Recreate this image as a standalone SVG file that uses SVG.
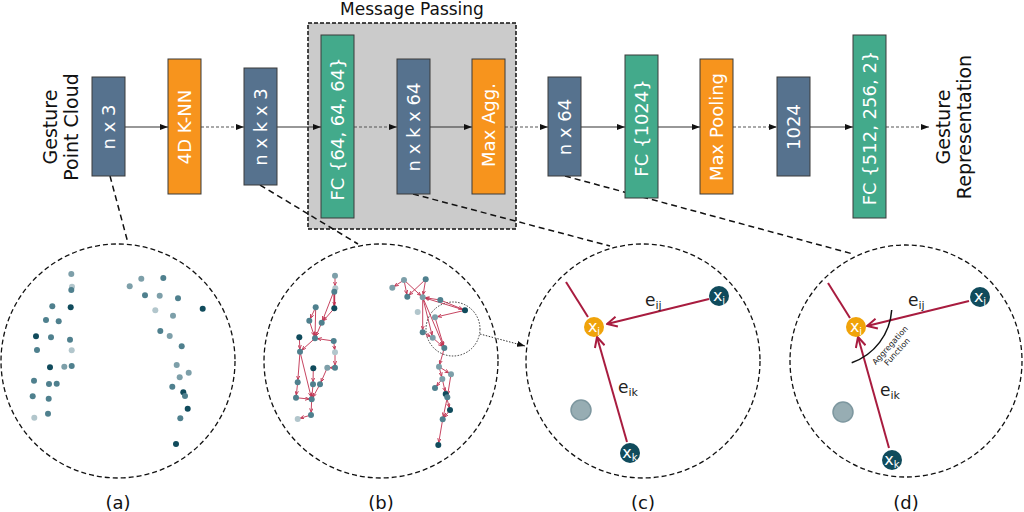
<svg xmlns="http://www.w3.org/2000/svg" width="1024" height="512" viewBox="0 0 1024 512">
<defs>
<style>
.box{stroke:#3a3a3a;stroke-width:1}
.blue{fill:#56728e}.orange{fill:#f7941d}.green{fill:#43aa8b}
.bt{font-family:"DejaVu Sans",sans-serif;font-size:18px;fill:#fff;text-anchor:middle}
.lbl{font-family:"DejaVu Sans",sans-serif;font-size:19px;fill:#111;text-anchor:middle}
.cap{font-family:"DejaVu Sans",sans-serif;font-size:18px;fill:#111;text-anchor:middle}
.el{font-family:"DejaVu Sans",sans-serif;font-size:17px;fill:#222}
.nl{font-family:"DejaVu Sans",sans-serif;font-size:16px;fill:#fff;text-anchor:middle}
.solid{stroke:#333;stroke-width:1.2;fill:none}
.dash{stroke:#555;stroke-width:1.2;stroke-dasharray:3 2;fill:none}
.call{stroke:#111;stroke-width:1.5;stroke-dasharray:6 4;fill:none}
.circ{stroke:#111;stroke-width:1.3;stroke-dasharray:5 3;fill:none}
.d{fill:#104b5c}.m{fill:#4f808e}.lm{fill:#7d9fa9}.l{fill:#b2c6cc}
.red{stroke:#a81c3f;stroke-width:2;fill:none}
.rs{stroke:#c0304f;stroke-width:0.9;fill:none}
</style>
<marker id="ah" viewBox="0 0 8 6" refX="8" refY="3" markerWidth="8" markerHeight="6" markerUnits="userSpaceOnUse" orient="auto"><path d="M0,0 L8,3 L0,6 z" fill="#111"/></marker>
<marker id="ch" viewBox="0 0 12 12" refX="11" refY="6" markerWidth="12" markerHeight="12" markerUnits="userSpaceOnUse" orient="auto"><path d="M1,1 L11,6 L1,11" fill="none" stroke="#a81c3f" stroke-width="2"/></marker>
<marker id="sc" viewBox="0 0 6 6" refX="10" refY="3" markerWidth="4" markerHeight="4" markerUnits="userSpaceOnUse" orient="auto"><path d="M0,0.5 L6,3 L0,5.5" fill="none" stroke="#c0304f" stroke-width="1.3"/></marker>
</defs>
<rect width="1024" height="512" fill="#fff"/>

<g id="message-passing">
<rect x="308" y="23" width="208" height="206" fill="#cbcbcb" stroke="#111" stroke-width="1.5" stroke-dasharray="4 2"/>
<text class="cap" x="412" y="15" style="font-size:17px">Message Passing</text>
</g>

<g id="labels">
<text class="lbl" transform="translate(0,127) rotate(-90)"><tspan x="0" y="57">Gesture</tspan><tspan x="0" y="77.5">Point Cloud</tspan></text>
<text class="lbl" transform="translate(0,127) rotate(-90)"><tspan x="0" y="950">Gesture</tspan><tspan x="0" y="971">Representation</tspan></text>
</g>

<g id="connectors">
<line class="solid" x1="125" y1="127" x2="168" y2="127" marker-end="url(#ah)"/>
<line class="dash" x1="201" y1="127" x2="244" y2="127" marker-end="url(#ah)"/>
<line class="solid" x1="277" y1="127" x2="321" y2="127" marker-end="url(#ah)"/>
<line class="dash" x1="354" y1="127" x2="397" y2="127" marker-end="url(#ah)"/>
<line class="solid" x1="430" y1="127" x2="472" y2="127" marker-end="url(#ah)"/>
<line class="dash" x1="505" y1="127" x2="548" y2="127" marker-end="url(#ah)"/>
<line class="solid" x1="581" y1="127" x2="625" y2="127" marker-end="url(#ah)"/>
<line class="solid" x1="658" y1="127" x2="700" y2="127" marker-end="url(#ah)"/>
<line class="dash" x1="733" y1="127" x2="777" y2="127" marker-end="url(#ah)"/>
<line class="solid" x1="810" y1="127" x2="853" y2="127" marker-end="url(#ah)"/>
<line class="dash" x1="886" y1="127" x2="929" y2="127" marker-end="url(#ah)"/>
<line class="call" x1="110" y1="176" x2="128" y2="243"/>
<line class="call" x1="260" y1="185" x2="358" y2="244"/>
<line class="call" x1="413" y1="194" x2="610" y2="246"/>
<line class="call" x1="565" y1="176" x2="853" y2="254"/>
<line x1="480" y1="334" x2="525" y2="346" stroke="#333" stroke-width="1" stroke-dasharray="1.5 1.5" marker-end="url(#ah)"/>
</g>

<g id="n-x-3"><rect class="box blue" x="92" y="77" width="33" height="99"/><text class="bt" transform="translate(108.5,127) rotate(-90)" dy="0.35em">n x 3</text></g>
<g id="knn"><rect class="box orange" x="168" y="59" width="33" height="135"/><text class="bt" transform="translate(184.5,127) rotate(-90)" dy="0.35em">4D K-NN</text></g>
<g id="n-x-k-x-3"><rect class="box blue" x="244" y="68" width="33" height="117"/><text class="bt" transform="translate(260.5,127) rotate(-90)" dy="0.35em">n x k x 3</text></g>
<g id="fc-64"><rect class="box green" x="321" y="35" width="33" height="183"/><text class="bt" transform="translate(337.5,129) rotate(-90)" dy="0.35em">FC {64, 64, 64}</text></g>
<g id="n-x-k-x-64"><rect class="box blue" x="397" y="59" width="33" height="135"/><text class="bt" transform="translate(413.5,127) rotate(-90)" dy="0.35em">n x k x 64</text></g>
<g id="max-agg"><rect class="box orange" x="472" y="59" width="33" height="135"/><text class="bt" transform="translate(488.5,125) rotate(-90)" dy="0.35em">Max Agg.</text></g>
<g id="n-x-64"><rect class="box blue" x="548" y="77" width="33" height="99"/><text class="bt" transform="translate(564.5,127) rotate(-90)" dy="0.35em">n x 64</text></g>
<g id="fc-1024"><rect class="box green" x="625" y="55" width="33" height="143"/><text class="bt" transform="translate(641.5,128) rotate(-90)" dy="0.35em">FC {1024}</text></g>
<g id="max-pooling"><rect class="box orange" x="700" y="59" width="33" height="135"/><text class="bt" transform="translate(716.5,127) rotate(-90)" dy="0.35em">Max Pooling</text></g>
<g id="n-1024"><rect class="box blue" x="777" y="77" width="33" height="99"/><text class="bt" transform="translate(793.5,127) rotate(-90)" dy="0.35em">1024</text></g>
<g id="fc-512"><rect class="box green" x="853" y="35" width="33" height="183"/><text class="bt" transform="translate(869.5,128) rotate(-90)" dy="0.35em">FC {512, 256, 2}</text></g>

<g id="panel-a">
<circle class="circ" cx="118" cy="361" r="117"/>
<g>
<circle class="lm" cx="71.3" cy="274" r="3"/><circle class="l" cx="72" cy="286.7" r="3"/><circle class="m" cx="71.3" cy="290" r="3"/><circle class="m" cx="52.3" cy="306.3" r="3"/><circle class="d" cx="70.7" cy="307.3" r="3"/><circle class="m" cx="46" cy="320" r="3"/><circle class="m" cx="58.7" cy="321.3" r="3"/><circle class="d" cx="36" cy="336.3" r="3"/><circle class="m" cx="51" cy="337.3" r="3"/><circle class="m" cx="70" cy="339.7" r="3"/><circle class="m" cx="37" cy="350" r="3"/><circle class="l" cx="71.7" cy="350.3" r="3"/><circle class="d" cx="50" cy="367.3" r="3"/><circle class="lm" cx="64.3" cy="366.7" r="3"/><circle class="m" cx="71.7" cy="366" r="3"/><circle class="m" cx="34" cy="380.7" r="3"/><circle class="m" cx="49" cy="384" r="3"/><circle class="m" cx="56.7" cy="383.7" r="3"/><circle class="m" cx="32.7" cy="396.3" r="3"/><circle class="m" cx="48.7" cy="398.7" r="3"/><circle class="m" cx="48" cy="413.7" r="3"/><circle class="l" cx="34.3" cy="417.7" r="3"/>
<circle class="lm" cx="129.7" cy="286.3" r="3"/><circle class="lm" cx="141.3" cy="278.7" r="3"/><circle class="m" cx="163.3" cy="278" r="3"/><circle class="m" cx="145" cy="295.3" r="3"/><circle class="lm" cx="159.7" cy="295.7" r="3"/><circle class="m" cx="178" cy="298.3" r="3"/><circle class="d" cx="202.7" cy="308.7" r="3"/><circle class="l" cx="155.3" cy="310.3" r="3"/><circle class="lm" cx="173" cy="315.7" r="3"/><circle class="m" cx="160.3" cy="331" r="3"/><circle class="lm" cx="169.7" cy="336" r="3"/><circle class="m" cx="181.7" cy="346.3" r="3"/><circle class="lm" cx="176.7" cy="365" r="3"/><circle class="lm" cx="188.7" cy="372.7" r="3"/><circle class="lm" cx="179.7" cy="377.3" r="3"/><circle class="m" cx="172.3" cy="386.7" r="3"/><circle class="d" cx="183.3" cy="392.3" r="3"/><circle class="m" cx="185" cy="396" r="3"/><circle class="d" cx="187.7" cy="408.7" r="3"/><circle class="m" cx="180.3" cy="418.3" r="3"/><circle class="d" cx="176" cy="444" r="3"/>
</g>
<text class="cap" x="118" y="509">(a)</text>
</g>

<g id="panel-b">
<circle class="circ" cx="381" cy="361" r="117"/>
<circle cx="453" cy="329" r="27" fill="none" stroke="#333" stroke-width="1" stroke-dasharray="1.5 1.5"/>
<g marker-end="url(#sc)">
<line class="rs" x1="335" y1="275.7" x2="335" y2="288.3"/>
<line class="rs" x1="334.3" y1="291.7" x2="334.3" y2="308.3" style="stroke-width:1.8"/>
<line class="rs" x1="335" y1="288.3" x2="321.7" y2="322.7"/>
<line class="rs" x1="334.3" y1="308.3" x2="321.7" y2="322.7"/>
<line class="rs" x1="321.7" y1="322.7" x2="315" y2="338.3"/>
<line class="rs" x1="315.7" y1="307.3" x2="309.3" y2="320.7"/>
<line class="rs" x1="315.7" y1="307.3" x2="315" y2="338.3"/>
<line class="rs" x1="309.3" y1="320.7" x2="315" y2="338.3"/>
<line class="rs" x1="333.7" y1="341" x2="315" y2="338.3"/>
<line class="rs" x1="333.7" y1="341" x2="335" y2="352.3"/>
<line class="rs" x1="335" y1="352.3" x2="335" y2="367.7"/>
<line class="rs" x1="335" y1="367.7" x2="327.3" y2="367.7"/>
<line class="rs" x1="299.3" y1="337.3" x2="300" y2="351.7"/>
<line class="rs" x1="315" y1="338.3" x2="300" y2="351.7"/>
<line class="rs" x1="300" y1="351.7" x2="297.7" y2="382.3"/>
<line class="rs" x1="300" y1="351.7" x2="311.7" y2="399.3"/>
<line class="rs" x1="327.3" y1="367.7" x2="320" y2="384.3"/>
<line class="rs" x1="313.3" y1="368.3" x2="313" y2="384.3"/>
<line class="rs" x1="313" y1="384.3" x2="311.7" y2="399.3"/>
<line class="rs" x1="297.7" y1="382.3" x2="296" y2="397.7"/>
<line class="rs" x1="296" y1="397.7" x2="311.7" y2="399.3"/>
<line class="rs" x1="320" y1="384.3" x2="311.7" y2="399.3"/>
<line class="rs" x1="311.7" y1="399.3" x2="311" y2="415"/>
<line class="rs" x1="311" y1="415" x2="297.7" y2="419"/>
<line class="rs" x1="404" y1="280" x2="392.3" y2="287.7"/>
<line class="rs" x1="404" y1="280" x2="407.3" y2="296.7"/>
<line class="rs" x1="404" y1="280" x2="422.7" y2="297.3"/>
<line class="rs" x1="425.7" y1="279.3" x2="407.3" y2="296.7"/>
<line class="rs" x1="425.7" y1="279.3" x2="422.7" y2="297.3"/>
<line class="rs" x1="440.3" y1="300" x2="422.7" y2="297.3"/>
<line class="rs" x1="440.3" y1="300" x2="465" y2="310.3"/>
<line class="rs" x1="465" y1="310.3" x2="435" y2="317.3"/>
<line class="rs" x1="465" y1="310.3" x2="422.7" y2="297.3"/>
<line class="rs" x1="422.7" y1="297.3" x2="422.7" y2="332.3"/>
<line class="rs" x1="422.7" y1="297.3" x2="432.7" y2="337.7"/>
<line class="rs" x1="422.7" y1="297.3" x2="444.3" y2="348"/>
<line class="rs" x1="435" y1="317.3" x2="444.3" y2="348"/>
<line class="rs" x1="422.7" y1="332.3" x2="432.7" y2="337.7"/>
<line class="rs" x1="432.7" y1="337.7" x2="444.3" y2="348"/>
<line class="rs" x1="444.3" y1="348" x2="439" y2="366.7"/>
<line class="rs" x1="439" y1="366.7" x2="451" y2="374.3"/>
<line class="rs" x1="439" y1="366.7" x2="442.3" y2="379"/>
<line class="rs" x1="442.3" y1="379" x2="435" y2="388"/>
<line class="rs" x1="442.3" y1="379" x2="445.7" y2="394"/>
<line class="rs" x1="451" y1="374.3" x2="447.3" y2="397.3"/>
<line class="rs" x1="445.7" y1="394" x2="450" y2="410"/>
<line class="rs" x1="447.3" y1="397.3" x2="442.7" y2="419.3"/>
<line class="rs" x1="450" y1="410" x2="442.7" y2="419.3"/>
<line class="rs" x1="442.7" y1="419.3" x2="438.3" y2="445"/>
</g>
<g>
<circle class="lm" cx="335" cy="275.7" r="3"/><circle class="l" cx="335.3" cy="288.3" r="3"/><circle class="m" cx="334.3" cy="291.7" r="3"/><circle class="d" cx="334.3" cy="308.3" r="3"/><circle class="m" cx="315.7" cy="307.3" r="3"/><circle class="m" cx="309.3" cy="320.7" r="3"/><circle class="m" cx="321.7" cy="322.7" r="3"/><circle class="d" cx="299.3" cy="337.3" r="3"/><circle class="m" cx="315" cy="338.3" r="3"/><circle class="m" cx="333.7" cy="341" r="3"/><circle class="m" cx="300" cy="351.7" r="3"/><circle class="l" cx="335" cy="352.3" r="3"/><circle class="d" cx="313.3" cy="368.3" r="3"/><circle class="lm" cx="327.3" cy="367.7" r="3"/><circle class="m" cx="335" cy="367.7" r="3"/><circle class="m" cx="297.7" cy="382.3" r="3"/><circle class="m" cx="313" cy="384.3" r="3"/><circle class="m" cx="320" cy="384.3" r="3"/><circle class="m" cx="296" cy="397.7" r="3"/><circle class="m" cx="311.7" cy="399.3" r="3"/><circle class="m" cx="311" cy="415" r="3"/><circle class="l" cx="297.7" cy="419" r="3"/>
<circle class="lm" cx="392.3" cy="287.7" r="3"/><circle class="lm" cx="404" cy="280" r="3"/><circle class="m" cx="425.7" cy="279.3" r="3"/><circle class="m" cx="407.3" cy="296.7" r="3"/><circle class="lm" cx="422.7" cy="297.3" r="3"/><circle class="m" cx="440.3" cy="300" r="3"/><circle class="d" cx="465" cy="310.3" r="3"/><circle class="l" cx="417.7" cy="312" r="3"/><circle class="lm" cx="435" cy="317.3" r="3"/><circle class="m" cx="422.7" cy="332.3" r="3"/><circle class="lm" cx="432.7" cy="337.7" r="3"/><circle class="m" cx="444.3" cy="348" r="3"/><circle class="lm" cx="439" cy="366.7" r="3"/><circle class="lm" cx="451" cy="374.3" r="3"/><circle class="lm" cx="442.3" cy="379" r="3"/><circle class="m" cx="435" cy="388" r="3"/><circle class="d" cx="445.7" cy="394" r="3"/><circle class="m" cx="447.3" cy="397.3" r="3"/><circle class="d" cx="450" cy="410" r="3"/><circle class="m" cx="442.7" cy="419.3" r="3"/><circle class="d" cx="438.3" cy="445" r="3"/>
</g>
<text class="cap" x="381" y="509">(b)</text>
</g>

<g id="panel-c">
<circle class="circ" cx="643" cy="361" r="117"/>
<line class="red" x1="709" y1="299" x2="607" y2="324" marker-end="url(#ch)"/>
<line class="red" x1="627" y1="442" x2="597" y2="337" marker-end="url(#ch)"/>
<line class="red" x1="588" y1="317" x2="566" y2="282"/>
<circle cx="581" cy="410" r="10" fill="#97adb3" stroke="#7d979f" stroke-width="1.5"/>
<circle cx="594" cy="327" r="10" fill="#f0a30a"/>
<circle cx="719" cy="296" r="10" fill="#104b5c"/>
<circle cx="630" cy="453" r="10" fill="#104b5c"/>
<text class="nl" x="594" y="331.5">x<tspan font-size="10" dy="3">i</tspan></text>
<text class="nl" x="719" y="300.5">x<tspan font-size="10" dy="3">j</tspan></text>
<text class="nl" x="630" y="457.5">x<tspan font-size="10" dy="3">k</tspan></text>
<text class="el" x="645" y="306">e<tspan font-size="11" dy="3">ij</tspan></text>
<text class="el" x="618" y="393">e<tspan font-size="11" dy="3">ik</tspan></text>
<text class="cap" x="643" y="509">(c)</text>
</g>

<g id="panel-d">
<circle class="circ" cx="906" cy="361" r="116"/>
<line class="red" x1="969" y1="301" x2="867" y2="326" marker-end="url(#ch)"/>
<line class="red" x1="889" y1="448" x2="858" y2="337" marker-end="url(#ch)"/>
<line class="red" x1="850" y1="318" x2="828" y2="283"/>
<path d="M891.7,310 A60,60 0 0 1 851.7,362.7" fill="none" stroke="#111" stroke-width="1.5"/>
<text transform="translate(893.5,348.5) rotate(-48)" text-anchor="middle" font-family="DejaVu Sans, sans-serif" font-size="8" fill="#222"><tspan x="0" y="-2">Aggregation</tspan><tspan x="0" y="7.5">Function</tspan></text>
<circle cx="843" cy="412" r="10" fill="#97adb3" stroke="#7d979f" stroke-width="1.5"/>
<circle cx="856" cy="327" r="10" fill="#f0a30a"/>
<circle cx="980" cy="297" r="10" fill="#104b5c"/>
<circle cx="892" cy="460" r="10" fill="#104b5c"/>
<text class="nl" x="856" y="331.5">x<tspan font-size="10" dy="3">i</tspan></text>
<text class="nl" x="980" y="301.5">x<tspan font-size="10" dy="3">j</tspan></text>
<text class="nl" x="892" y="464.5">x<tspan font-size="10" dy="3">k</tspan></text>
<text class="el" x="908" y="306">e<tspan font-size="11" dy="3">ij</tspan></text>
<text class="el" x="880" y="396">e<tspan font-size="11" dy="3">ik</tspan></text>
<text class="cap" x="906" y="509">(d)</text>
</g>
</svg>
